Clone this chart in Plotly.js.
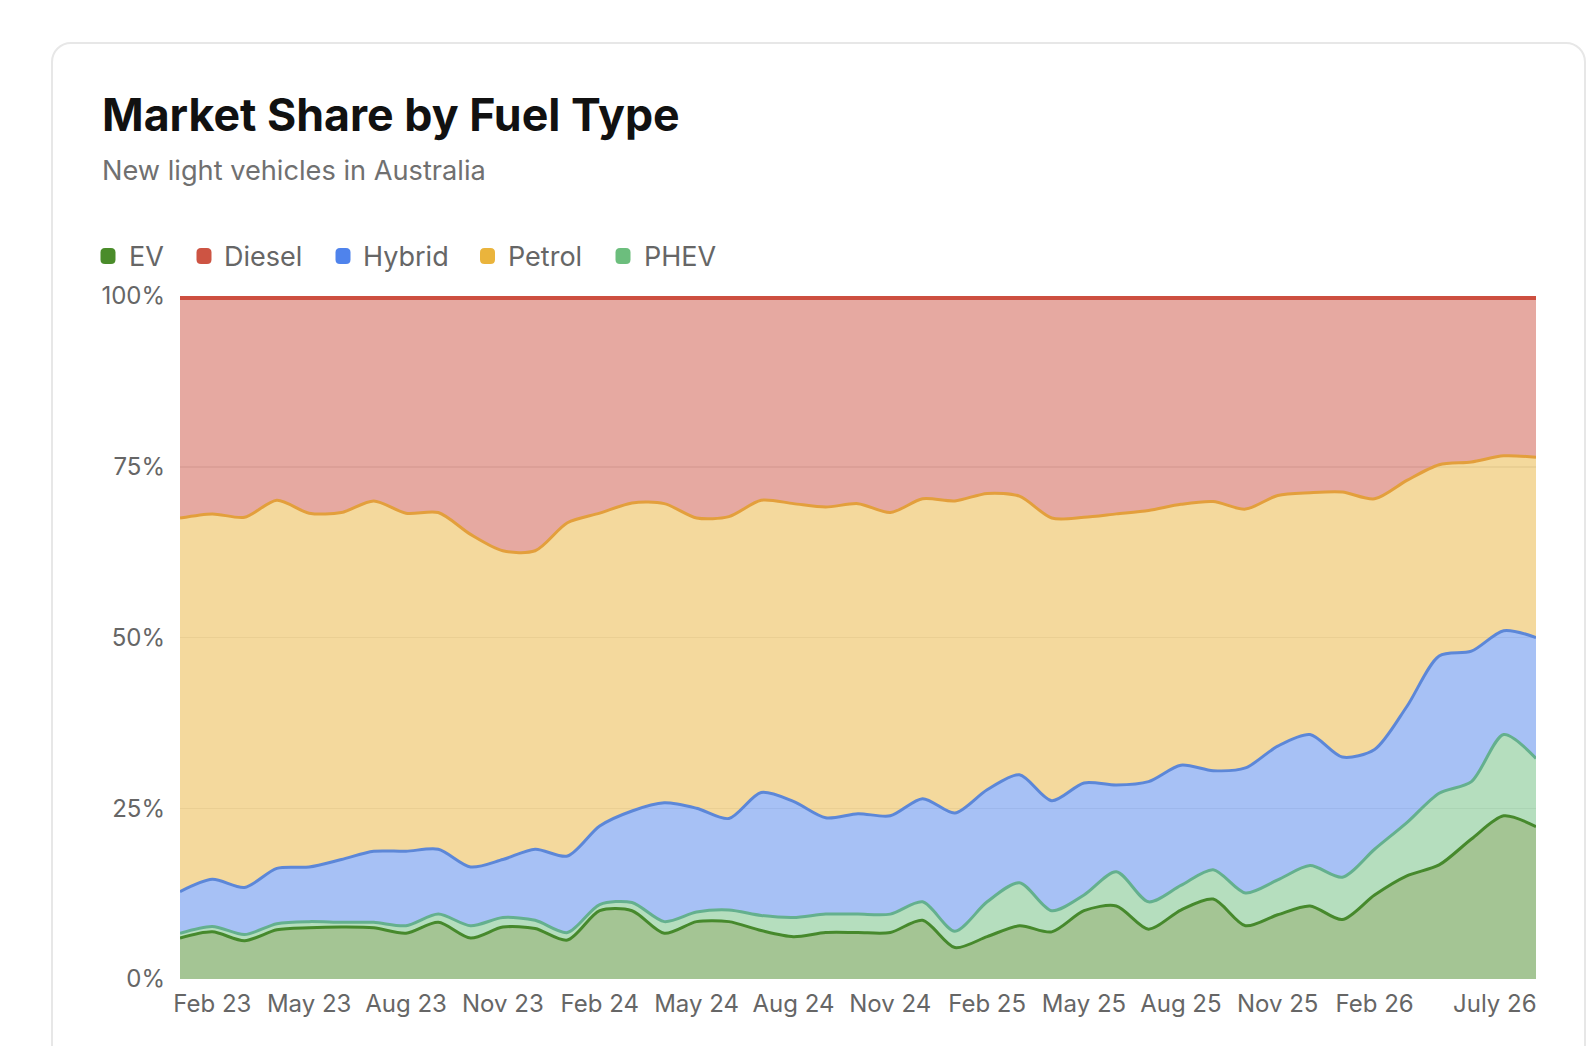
<!DOCTYPE html>
<html><head><meta charset="utf-8">
<script src="https://cdn.plot.ly/plotly-3.0.1.min.js"></script>
<style>
html,body{margin:0;padding:0;background:#fff;width:1596px;height:1046px;overflow:hidden;}
#card{position:absolute;left:51px;top:42px;width:1531px;height:1100px;border:2px solid #e7e7e7;border-radius:20px;background:#fff;}
#chart{position:absolute;left:0;top:0;width:1596px;height:1046px;}
</style></head><body><div id="card"></div><div id="chart"></div>
<script>
// ---- data ----
const months = ['Jan 23','Feb 23','Mar 23','Apr 23','May 23','Jun 23','Jul 23','Aug 23','Sep 23','Oct 23','Nov 23','Dec 23',
  'Jan 24','Feb 24','Mar 24','Apr 24','May 24','Jun 24','Jul 24','Aug 24','Sep 24','Oct 24','Nov 24','Dec 24',
  'Jan 25','Feb 25','Mar 25','Apr 25','May 25','Jun 25','Jul 25','Aug 25','Sep 25','Oct 25','Nov 25','Dec 25',
  'Jan 26','Feb 26','Mar 26','Apr 26','May 26','Jun 26','Jul 26'];
const tickMonths = ['Feb 23','May 23','Aug 23','Nov 23','Feb 24','May 24','Aug 24','Nov 24','Feb 25','May 25','Aug 25','Nov 25','Feb 26'];
const lastTickMonth = 'Jul 26';
const lastTickLabel = 'July 26';
const yTicks = [0,25,50,75,100];
const yTickLabels = ['0%','25%','50%','75%','100%'];

const ev     = [6.0,6.9,5.6,7.2,7.5,7.6,7.5,6.7,8.3,6.0,7.6,7.4,5.7,10.0,10.0,6.7,8.4,8.4,7.1,6.2,6.8,6.8,6.8,8.6,4.6,6.2,7.8,6.9,10.0,10.7,7.3,10.1,11.7,7.8,9.4,10.7,8.7,12.3,15.1,16.7,20.5,23.9,22.3];
const phev   = [0.7,0.8,0.9,0.9,0.9,0.7,0.8,1.1,1.2,1.8,1.4,1.2,1.1,0.9,1.2,1.7,1.4,1.7,2.2,2.8,2.7,2.7,2.7,2.7,2.4,5.1,6.3,3.1,2.3,5.0,4.0,3.6,4.3,4.8,5.1,5.9,6.2,6.7,7.8,10.5,8.4,11.9,10.0];
const hybrid = [6.1,6.9,6.9,8.1,8.0,9.2,10.4,10.9,9.5,8.6,8.5,10.4,11.2,11.5,13.4,17.4,15.2,13.4,18.0,17.0,14.1,14.7,14.4,15.1,17.3,16.4,15.8,16.1,16.4,12.7,17.6,17.6,14.5,18.3,19.6,19.2,17.6,14.6,17.0,20.1,19.1,15.2,17.7];
const petrol = [54.7,53.5,54.2,53.9,51.8,50.8,51.3,49.5,49.3,48.7,45.2,43.7,48.8,45.8,45.1,43.8,42.5,44.2,42.8,43.6,45.5,45.4,44.4,43.9,45.7,43.4,40.8,41.4,38.9,39.7,39.7,38.2,39.4,37.9,36.7,35.4,38.8,36.7,33.1,28.0,27.7,25.6,26.4];
const diesel = [32.5,31.9,32.4,29.9,31.8,31.7,30.0,31.8,31.7,34.9,37.3,37.3,33.2,31.8,30.3,30.4,32.5,32.3,29.9,30.4,30.9,30.4,31.7,29.7,30.0,28.9,29.3,32.5,32.4,31.9,31.4,30.5,30.1,31.2,29.2,28.8,28.7,29.7,27.0,24.7,24.3,23.4,23.6];

const seriesNames = ['EV','PHEV','Hybrid','Petrol','Diesel'];       // stacking order (bottom -> top)
const legendOrder = ['EV','Diesel','Hybrid','Petrol','PHEV'];
const seriesValues = {EV:ev, PHEV:phev, Hybrid:hybrid, Petrol:petrol, Diesel:diesel};

// ---- styles ----
const colors = {EV:'#4a8c2a', PHEV:'#6cbe7d', Hybrid:'#4f83ec', Petrol:'#eab43c', Diesel:'#cd5443'};
const lineColors = {EV:'#46892c', PHEV:'#64b08e', Hybrid:'#5c87d8', Petrol:'#e39f3c', Diesel:'#cd4f40'};
function rgba(hex,a){const n=parseInt(hex.slice(1),16);return `rgba(${n>>16&255},${n>>8&255},${n&255},${a})`;}
const FONT = 'Inter, "Noto Sans", Arial, sans-serif';
const W=1596, H=1046, M={l:180,r:60,t:296,b:67};
const PW=W-M.l-M.r, PH=H-M.t-M.b;
const px=x=>(x-M.l)/PW, py=y=>(H-M.b-y)/PH;

const traces = seriesNames.map(name=>({
  type:'scatter', mode:'lines', name:name, x:months, y:seriesValues[name],
  stackgroup:'one', showlegend:false, hoverinfo:'skip',
  line:{color:lineColors[name], width: name==='Diesel'?8:3, shape:'spline', smoothing:0.8},
  fillcolor:rgba(colors[name],0.5)
}));

// custom legend
const legendMarkerX = [108,204,343,487.5,623];
const legendTextX = [127,222,361,506,642];
const shapes=[], annotations=[];
function roundRect(cx,cy,w,h,r){
  const x0=cx-w/2,x1=cx+w/2,y0=cy-h/2,y1=cy+h/2;
  const P=(x,y)=>`${px(x).toFixed(5)},${py(y).toFixed(5)}`;
  return `M${P(x0+r,y0)} L${P(x1-r,y0)} Q${P(x1,y0)} ${P(x1,y0+r)} L${P(x1,y1-r)} Q${P(x1,y1)} ${P(x1-r,y1)} L${P(x0+r,y1)} Q${P(x0,y1)} ${P(x0,y1-r)} L${P(x0,y0+r)} Q${P(x0,y0)} ${P(x0+r,y0)} Z`;
}
legendOrder.forEach((name,i)=>{
  shapes.push({type:'path', xref:'paper', yref:'paper', path:roundRect(legendMarkerX[i],256,15,16,4.5),
    fillcolor:colors[name], line:{width:0}, layer:'above'});
  annotations.push({xref:'paper', yref:'paper', x:px(legendTextX[i]), y:py(256), xanchor:'left', yanchor:'middle',
    text:name, showarrow:false, font:{family:FONT, size:27, color:'#666666'}});
});
annotations.push({xref:'paper', yref:'paper', x:px(100), y:py(115), xanchor:'left', yanchor:'middle', showarrow:false,
  text:'Market Share by Fuel Type', font:{family:FONT, size:44.7, weight:700, color:'#111111'}});
annotations.push({xref:'paper', yref:'paper', x:px(100), y:py(171), xanchor:'left', yanchor:'middle', showarrow:false,
  text:'New light vehicles in Australia', font:{family:FONT, size:27.2, color:'#707070'}});
annotations.push({xref:'x', yref:'paper', x:lastTickMonth, y:0, xanchor:'right', yanchor:'top', yshift:-8, xshift:3, showarrow:false,
  text:lastTickLabel, font:{family:FONT, size:24, color:'#666666'}});

const layout = {
  width:W, height:H, margin:M,
  paper_bgcolor:'rgba(0,0,0,0)', plot_bgcolor:'rgba(0,0,0,0)',
  showlegend:false,
  xaxis:{type:'category', range:[0, months.length-1], tickmode:'array', tickvals:tickMonths, ticktext:tickMonths,
    showgrid:false, zeroline:false, showline:false, ticks:'', ticklabelstandoff:8,
    tickfont:{family:FONT, size:24, color:'#666666'}},
  yaxis:{range:[0,100], tickmode:'array', tickvals:yTicks, ticktext:yTickLabels,
    showgrid:true, gridcolor:'#ebebeb', gridwidth:1.5, zeroline:false, showline:false, ticks:'', ticklabelstandoff:14,
    tickfont:{family:FONT, size:24, color:'#666666'}},
  shapes:shapes, annotations:annotations
};
Plotly.newPlot('chart', traces, layout, {staticPlot:true, displayModeBar:false});
</script></body></html>
